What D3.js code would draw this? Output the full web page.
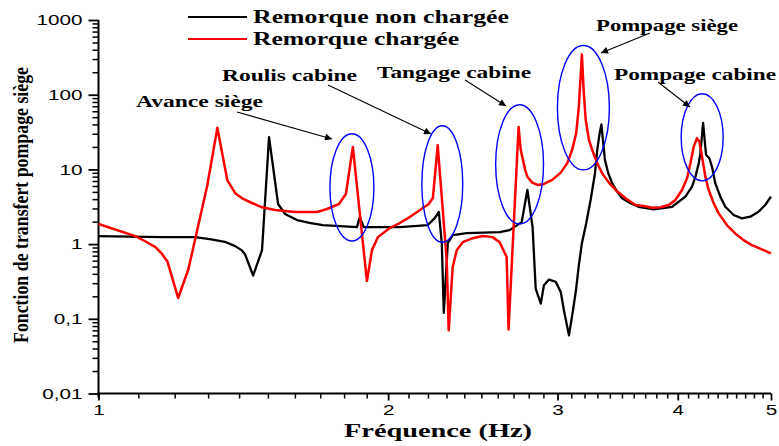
<!DOCTYPE html>
<html>
<head>
<meta charset="utf-8">
<script src="https://cdn.jsdelivr.net/npm/d3@7"></script>
<style>
  html, body { margin: 0; padding: 0; background: #fff; }
  svg { display: block; }
  .serif { font-family: "Liberation Serif", "Times New Roman", Tinos, "DejaVu Serif", serif; font-weight: bold; }
  .sans { font-family: "Liberation Sans", Arial, Arimo, sans-serif; }
</style>
</head>
<body>
<div id="chart"></div>
<script>
// ---------------- DATA ----------------
const seriesNames = ["Remorque non chargée", "Remorque chargée"];

// Remorque non chargée (black)
const freqBlack = [1.00, 1.165, 1.261, 1.310, 1.353, 1.387, 1.408, 1.42, 1.448, 1.479, 1.504, 1.537, 1.563, 1.608, 1.657, 1.71, 1.856, 1.869, 1.887, 2.057, 2.199, 2.236, 2.258, 2.274, 2.285, 2.307, 2.334, 2.414, 2.612, 2.675, 2.753, 2.791, 2.826, 2.847, 2.882, 2.904, 2.939, 2.987, 3.023, 3.046, 3.083, 3.113, 3.135, 3.157, 3.180, 3.213, 3.247, 3.281, 3.299, 3.318, 3.332, 3.344, 3.360, 3.387, 3.419, 3.460, 3.501, 3.572, 3.641, 3.777, 3.946, 4.074, 4.139, 4.173, 4.206, 4.223, 4.250, 4.266, 4.280, 4.314, 4.341, 4.376, 4.429, 4.482, 4.572, 4.664, 4.758, 4.853, 4.931, 5.0];
const valBlack  = [1.28, 1.24, 1.24, 1.156, 1.074, 0.94, 0.831, 0.73, 0.38, 0.83, 27, 3.44, 2.53, 2.1, 1.93, 1.8, 1.69, 2.3, 1.69, 1.69, 1.8, 2.23, 2.69, 1.03, 0.12, 1.03, 1.32, 1.40, 1.45, 1.54, 1.97, 5.3, 1.69, 0.254, 0.16, 0.282, 0.336, 0.312, 0.229, 0.130, 0.060, 0.130, 0.241, 0.523, 1.03, 1.90, 3.90, 8.89, 18.3, 30.6, 40, 24.9, 13.4, 8.89, 6.53, 5.04, 4.11, 3.52, 3.16, 2.92, 3.16, 4.32, 5.88, 8.0, 12.1, 16.5, 42, 24.9, 15.7, 14.1, 10.9, 6.53, 4.32, 3.16, 2.45, 2.21, 2.33, 2.71, 3.34, 4.32];

// Remorque chargée (red)
const freqRed = [1.00, 1.092, 1.117, 1.146, 1.163, 1.179, 1.21, 1.24, 1.297, 1.329, 1.361, 1.387, 1.414, 1.444, 1.479, 1.526, 1.60, 1.687, 1.728, 1.778, 1.808, 1.838, 1.901, 1.924, 1.952, 2.008, 2.054, 2.106, 2.138, 2.173, 2.203, 2.226, 2.252, 2.301, 2.312, 2.334, 2.357, 2.391, 2.449, 2.508, 2.568, 2.612, 2.656, 2.668, 2.733, 2.747, 2.776, 2.792, 2.824, 2.86, 2.904, 2.962, 3.023, 3.070, 3.107, 3.137, 3.157, 3.180, 3.193, 3.209, 3.234, 3.259, 3.299, 3.338, 3.392, 3.447, 3.530, 3.616, 3.687, 3.762, 3.838, 3.915, 3.977, 4.041, 4.090, 4.123, 4.156, 4.189, 4.212, 4.239, 4.273, 4.307, 4.359, 4.411, 4.499, 4.590, 4.682, 4.776, 4.892, 5.0];
const valRed  = [1.86, 1.28, 1.10, 0.91, 0.75, 0.59, 0.19, 0.46, 6.0, 36, 7.2, 4.8, 4.02, 3.55, 3.11, 2.86, 2.69, 2.69, 2.95, 3.44, 4.7, 20, 0.32, 0.83, 1.24, 1.64, 1.90, 2.3, 2.63, 3.04, 3.41, 4.14, 21, 0.61, 0.07, 0.49, 0.83, 1.06, 1.2, 1.28, 1.24, 1.06, 0.67, 0.072, 37, 18.3, 9.85, 7.9, 6.65, 6.2, 6.39, 7.23, 9.06, 12.1, 18.3, 30.6, 69.7, 344, 117, 46.2, 24.9, 18.3, 12.1, 8.89, 6.65, 5.31, 4.11, 3.34, 3.24, 3.07, 3.11, 3.34, 3.90, 5.31, 7.62, 12.1, 20.2, 26.2, 23.6, 14.9, 8.0, 5.31, 3.52, 2.58, 1.80, 1.39, 1.13, 0.97, 0.849, 0.75];

// Axes
const xTickValues = [1, 2, 3, 4, 5];
const xTickLabels = ["1", "2", "3", "4", "5"];
const yTickValues = [0.01, 0.1, 1, 10, 100, 1000];
const yTickLabels = ["0,01", "0,1", "1", "10", "100", "1000"];
const xTitle = "Fréquence (Hz)";
const yTitle = "Fonction de transfert pompage siège";

// Resonance annotations: label + ellipse bounds in data units
const annoLabels = ["Avance siège", "Roulis cabine", "Tangage cabine", "Pompage siège", "Pompage cabine"];
const ellFreqMin = [1.740, 2.168, 2.587, 2.999, 4.033];
const ellFreqMax = [1.933, 2.391, 2.901, 3.396, 4.459];
const ellValMin  = [1.10, 1.06, 1.86, 9.85, 7.01];
const ellValMax  = [30, 38.4, 73.4, 455, 103];

// ---------------- LAYOUT ----------------
const W = 779, H = 446;
const mLeft = 98.5, mRight = 771, mTop = 20, mBottom = 393.5;
const STRETCH = 1.38;

const svg = d3.select("#chart").append("svg")
  .attr("width", W).attr("height", H)
  .attr("viewBox", `0 0 ${W} ${H}`);

const x = d3.scaleLog().domain([1, 5]).range([mLeft, mRight]);
const y = d3.scaleLog().domain([0.01, 1000]).range([mBottom, mTop]);

function stretchText(sel, k) {
  sel.each(function() {
    const len = this.getComputedTextLength();
    d3.select(this).attr("textLength", len * k).attr("lengthAdjust", "spacingAndGlyphs");
  });
}

// ---------------- AXES ----------------
const xMinorVals = [];
[1, 2, 3, 4].forEach(d => { for (let i = 1; i <= 9; i++) xMinorVals.push(+(d + i * 0.1).toFixed(2)); });

svg.append("g")
  .attr("transform", `translate(0,${mBottom})`)
  .call(d3.axisBottom(x).tickValues(xMinorVals).tickSize(5).tickFormat(""))
  .call(g => g.select(".domain").remove())
  .call(g => g.selectAll("line").attr("stroke", "#000").attr("stroke-width", 1.5));

const xAxis = svg.append("g")
  .attr("transform", `translate(0,${mBottom})`)
  .call(d3.axisBottom(x).tickValues(xTickValues).tickSize(7).tickPadding(4)
    .tickFormat((d, i) => xTickLabels[i]));
xAxis.attr("font-family", null).attr("font-size", null);
xAxis.select(".domain").attr("stroke", "#000").attr("stroke-width", 2)
  .attr("d", `M${mLeft - 1},0H${mRight}`);
xAxis.selectAll(".tick line").attr("stroke", "#000").attr("stroke-width", 1.8);
xAxis.selectAll("text").attr("class", "sans").style("font-size", "15px").attr("fill", "#000")
  .call(stretchText, STRETCH);

const yMinorVals = [];
[0.01, 0.1, 1, 10, 100].forEach(d => { for (let i = 2; i <= 9; i++) yMinorVals.push(d * i); });
svg.append("g")
  .attr("transform", `translate(${mLeft},0)`)
  .call(d3.axisLeft(y).tickValues(yMinorVals).tickSize(6).tickFormat(""))
  .call(g => g.select(".domain").remove())
  .call(g => g.selectAll("line").attr("stroke", "#000").attr("stroke-width", 1.5));

const yAxis = svg.append("g")
  .attr("transform", `translate(${mLeft},0)`)
  .call(d3.axisLeft(y).tickValues(yTickValues).tickSize(10).tickPadding(6)
    .tickFormat((d, i) => yTickLabels[i]));
yAxis.attr("font-family", null).attr("font-size", null);
yAxis.select(".domain").attr("stroke", "#000").attr("stroke-width", 2)
  .attr("d", `M0,${mTop}V${mBottom + 4}`);
yAxis.selectAll(".tick line").attr("stroke", "#000").attr("stroke-width", 1.8);
yAxis.selectAll("text").attr("class", "sans").style("font-size", "15px").attr("fill", "#000")
  .call(stretchText, STRETCH);

// Axis titles
svg.append("text")
  .attr("class", "serif")
  .attr("x", 438).attr("y", 437)
  .attr("text-anchor", "middle")
  .style("font-size", "18px")
  .attr("textLength", 188).attr("lengthAdjust", "spacingAndGlyphs")
  .text(xTitle);

svg.append("text")
  .attr("class", "serif")
  .attr("transform", "translate(28,205) rotate(-90)")
  .attr("text-anchor", "middle")
  .style("font-size", "22px")
  .attr("textLength", 276).attr("lengthAdjust", "spacingAndGlyphs")
  .text(yTitle);

// ---------------- LINES ----------------
const line = d3.line().x(d => x(d[0])).y(d => y(d[1])).curve(d3.curveLinear);
const blackData = freqBlack.map((f, i) => [f, valBlack[i]]);
const redData = freqRed.map((f, i) => [f, valRed[i]]);

svg.append("path").datum(blackData)
  .attr("d", line).attr("fill", "none").attr("stroke", "#000")
  .attr("stroke-width", 2.3).attr("stroke-linejoin", "round");
svg.append("path").datum(redData)
  .attr("d", line).attr("fill", "none").attr("stroke", "#ff0000")
  .attr("stroke-width", 2.5).attr("stroke-linejoin", "round");

// ---------------- ANNOTATIONS ----------------
svg.append("defs").append("marker")
  .attr("id", "arrow").attr("viewBox", "0 0 10 10")
  .attr("refX", 10).attr("refY", 5)
  .attr("markerWidth", 11).attr("markerHeight", 7)
  .attr("markerUnits", "userSpaceOnUse")
  .attr("orient", "auto")
  .append("path").attr("d", "M0,0L10,5L0,10Z").attr("fill", "#000");

annoLabels.forEach((lab, i) => {
  const x0 = x(ellFreqMin[i]), x1 = x(ellFreqMax[i]);
  const y0 = y(ellValMax[i]), y1 = y(ellValMin[i]);
  svg.append("ellipse")
    .attr("cx", (x0 + x1) / 2).attr("cy", (y0 + y1) / 2)
    .attr("rx", (x1 - x0) / 2).attr("ry", (y1 - y0) / 2)
    .attr("fill", "none").attr("stroke", "#0000ff").attr("stroke-width", 1.4);
});

const annoLayout = [
  { tx: 136, ty: 107, tw: 127, ax1: 237, ay1: 112, ax2: 332, ay2: 139 },
  { tx: 222, ty: 81,  tw: 135, ax1: 328, ay1: 85,  ax2: 431, ay2: 134 },
  { tx: 377, ty: 78,  tw: 154, ax1: 465, ay1: 80,  ax2: 506, ay2: 106 },
  { tx: 596, ty: 31,  tw: 142, ax1: 650, ay1: 33,  ax2: 601, ay2: 53 },
  { tx: 614, ty: 80,  tw: 162, ax1: 658, ay1: 82,  ax2: 690, ay2: 107 }
];

annoLabels.forEach((lab, i) => {
  const L = annoLayout[i];
  svg.append("text")
    .attr("class", "serif")
    .attr("x", L.tx).attr("y", L.ty)
    .style("font-size", "16px")
    .attr("textLength", L.tw).attr("lengthAdjust", "spacingAndGlyphs")
    .text(lab);
  svg.append("line")
    .attr("x1", L.ax1).attr("y1", L.ay1).attr("x2", L.ax2).attr("y2", L.ay2)
    .attr("stroke", "#000").attr("stroke-width", 1.1)
    .attr("marker-end", "url(#arrow)");
});

// ---------------- LEGEND ----------------
const legendColors = ["#000", "#ff0000"];
const legendWidths = [256, 206];
seriesNames.forEach((name, i) => {
  const ly = 17 + i * 22;
  svg.append("line")
    .attr("x1", 188).attr("x2", 247).attr("y1", ly).attr("y2", ly)
    .attr("stroke", legendColors[i]).attr("stroke-width", 2);
  svg.append("text")
    .attr("class", "serif")
    .attr("x", 253).attr("y", ly + 5.5)
    .style("font-size", "18px")
    .attr("textLength", legendWidths[i]).attr("lengthAdjust", "spacingAndGlyphs")
    .text(name);
});
</script>
</body>
</html>
